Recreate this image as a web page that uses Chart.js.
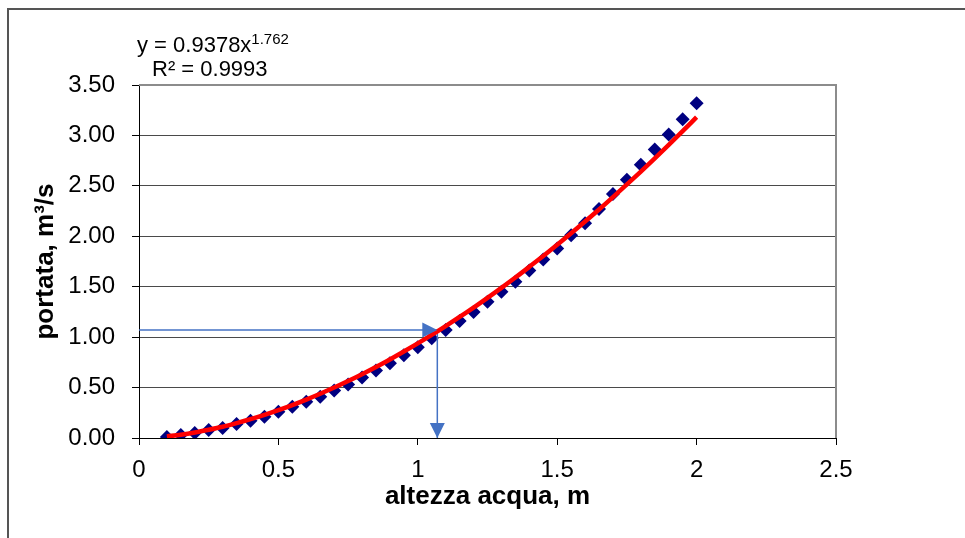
<!DOCTYPE html>
<html>
<head>
<meta charset="utf-8">
<script src="https://cdn.jsdelivr.net/npm/chart.js@4"></script>
<style>
  html, body { margin: 0; padding: 0; background: #fff; }
  #wrap { width: 965px; height: 538px; position: relative; }
</style>
</head>
<body>
<div id="wrap"><canvas id="chart"></canvas></div>
<script>
// water height (m) and measured discharge (m3/s)
const altezza = [0.10, 0.15, 0.20, 0.25, 0.30, 0.35, 0.40, 0.45, 0.50, 0.55,
                 0.60, 0.65, 0.70, 0.75, 0.80, 0.85, 0.90, 0.95, 1.00, 1.05,
                 1.10, 1.15, 1.20, 1.25, 1.30, 1.35, 1.40, 1.45, 1.50, 1.55,
                 1.60, 1.65, 1.70, 1.75, 1.80, 1.85, 1.90, 1.95, 2.00];
const portata = [0.01, 0.03, 0.05, 0.08, 0.10, 0.14, 0.17, 0.21, 0.26, 0.31,
                 0.36, 0.41, 0.47, 0.53, 0.60, 0.67, 0.74, 0.82, 0.90, 0.99,
                 1.07, 1.16, 1.25, 1.35, 1.45, 1.55, 1.66, 1.77, 1.88, 2.01,
                 2.13, 2.27, 2.42, 2.56, 2.71, 2.86, 3.01, 3.16, 3.32];
// power trendline y = 0.9378x^1.762, values at the same heights
const trend = [0.016, 0.033, 0.055, 0.082, 0.112, 0.148, 0.187, 0.230, 0.277, 0.327,
               0.381, 0.439, 0.500, 0.565, 0.633, 0.704, 0.779, 0.857, 0.938, 1.022,
               1.109, 1.200, 1.293, 1.390, 1.489, 1.591, 1.697, 1.805, 1.916, 2.030,
               2.147, 2.266, 2.389, 2.514, 2.642, 2.773, 2.906, 3.042, 3.181];
// reading arrow: height -> discharge
const letturaX = 1.07;
const letturaY = 1.07;

const xTickLabels = ['0', '0.5', '1', '1.5', '2', '2.5'];
const yTickLabels = ['0.00', '0.50', '1.00', '1.50', '2.00', '2.50', '3.00', '3.50'];

const FONT = "'Liberation Sans', Arial, sans-serif";
const ARROW = '#4472c4';

const extras = {
  id: 'extras',
  afterDatasetsDraw(chart) {
    const ctx = chart.ctx;
    const xs = chart.scales.x, ys = chart.scales.y;
    const ax = xs.getPixelForValue(letturaX);
    const ay = ys.getPixelForValue(letturaY);
    const by = ys.getPixelForValue(0);
    ctx.save();
    ctx.fillStyle = ARROW;
    // right-pointing head
    ctx.beginPath();
    ctx.moveTo(ax, ay);
    ctx.lineTo(ax - 15, ay - 7.5);
    ctx.lineTo(ax - 15, ay + 7.5);
    ctx.closePath();
    ctx.fill();
    // down-pointing head
    ctx.beginPath();
    ctx.moveTo(ax, by);
    ctx.lineTo(ax - 7.5, by - 15);
    ctx.lineTo(ax + 7.5, by - 15);
    ctx.closePath();
    ctx.fill();
    ctx.restore();
  },
  afterDraw(chart) {
    const ctx = chart.ctx;
    const a = chart.chartArea;
    ctx.save();
    // plot area frame (top + right)
    ctx.strokeStyle = '#8c8c8c';
    ctx.lineWidth = 2;
    ctx.beginPath();
    ctx.moveTo(a.left, a.top);
    ctx.lineTo(a.right, a.top);
    ctx.lineTo(a.right, a.bottom);
    ctx.stroke();
    // outer chart frame
    ctx.strokeStyle = '#555';
    ctx.beginPath();
    ctx.moveTo(8, chart.height);
    ctx.lineTo(8, 9);
    ctx.lineTo(chart.width, 9);
    ctx.stroke();
    // trendline equation
    ctx.fillStyle = '#000';
    ctx.textBaseline = 'alphabetic';
    ctx.font = '22px ' + FONT;
    const eq = 'y = 0.9378x';
    ctx.fillText(eq, 137, 52);
    const w = ctx.measureText(eq).width;
    ctx.font = '15px ' + FONT;
    ctx.fillText('1.762', 137 + w, 44);
    ctx.font = '22px ' + FONT;
    ctx.fillText('R\u00b2 = 0.9993', 152, 76);
    ctx.restore();
  }
};

new Chart(document.getElementById('chart'), {
  type: 'scatter',
  data: {
    datasets: [
      {
        label: 'trend',
        type: 'line',
        data: altezza.map((x, i) => ({ x: x, y: trend[i] })),
        borderColor: '#ff0000',
        borderWidth: 4.5,
        pointRadius: 0,
        cubicInterpolationMode: 'monotone',
        fill: false,
        order: 0
      },
      {
        label: 'lettura H',
        type: 'line',
        data: [{ x: 0, y: letturaY }, { x: letturaX, y: letturaY }],
        borderColor: ARROW,
        borderWidth: 1.5,
        pointRadius: 0,
        fill: false,
        order: 1
      },
      {
        label: 'lettura V',
        type: 'line',
        data: [{ x: letturaX, y: letturaY }, { x: letturaX, y: 0 }],
        borderColor: ARROW,
        borderWidth: 1.5,
        pointRadius: 0,
        fill: false,
        order: 1
      },
      {
        label: 'portata',
        data: altezza.map((x, i) => ({ x: x, y: portata[i] })),
        pointStyle: 'rectRot',
        pointRadius: 7,
        pointHoverRadius: 7,
        backgroundColor: '#000080',
        borderColor: '#000080',
        borderWidth: 0,
        order: 2
      }
    ]
  },
  options: {
    responsive: true,
    maintainAspectRatio: false,
    animation: false,
    layout: { padding: { left: 26, right: 129, top: 85, bottom: 22 } },
    plugins: { legend: { display: false }, tooltip: { enabled: false } },
    scales: {
      x: {
        type: 'linear',
        min: 0,
        max: 2.5,
        afterFit(s) { s.height = 78; },
        border: { color: '#000', width: 1 },
        grid: { drawOnChartArea: false, color: '#000', tickLength: 7 },
        ticks: {
          stepSize: 0.5,
          padding: 11,
          color: '#000',
          font: { family: FONT, size: 24 },
          callback: (v, i) => xTickLabels[i]
        },
        title: {
          display: true,
          text: 'altezza acqua, m',
          color: '#000',
          font: { family: FONT, size: 26, weight: 'bold' },
          padding: { top: 0, bottom: 4 }
        }
      },
      y: {
        min: 0,
        max: 3.5,
        afterFit(s) { s.width = 139 - 26; },
        border: { color: '#000', width: 1 },
        grid: { color: '#4a4a4a', lineWidth: 1, tickLength: 7, tickColor: '#000' },
        ticks: {
          stepSize: 0.5,
          padding: 17,
          color: '#000',
          font: { family: FONT, size: 24 },
          callback: (v, i) => yTickLabels[i]
        },
        title: {
          display: true,
          text: 'portata, m\u00b3/s',
          color: '#000',
          font: { family: FONT, size: 26, weight: 'bold' },
          padding: { top: 4, bottom: 0 }
        }
      }
    }
  },
  plugins: [extras]
});
</script>
</body>
</html>
